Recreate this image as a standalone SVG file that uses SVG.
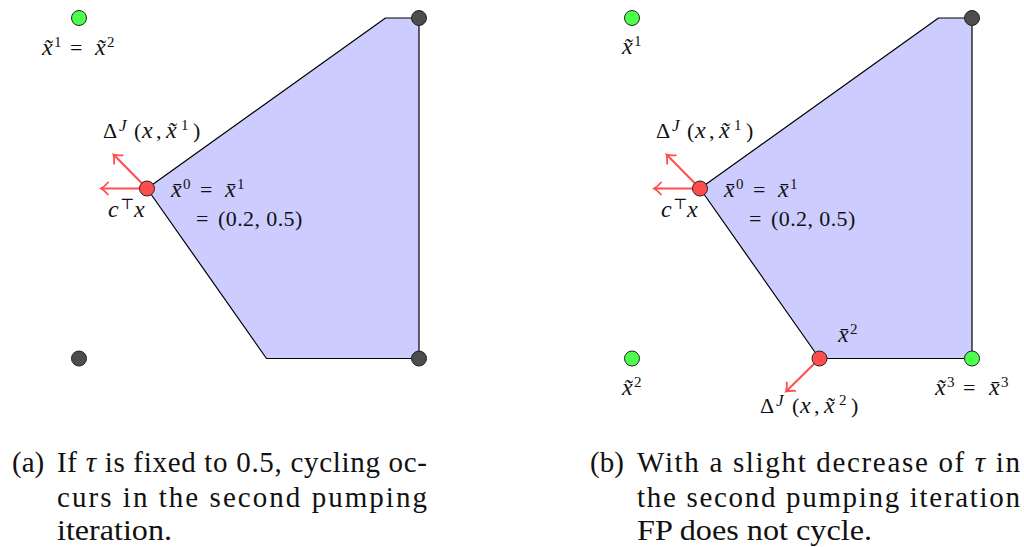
<svg xmlns="http://www.w3.org/2000/svg" width="1024" height="547" viewBox="0 0 1024 547">
<style>
.poly{fill:#ccccff;stroke:#000;stroke-width:1.2;stroke-linejoin:round}
.dg{fill:#4dff4d;stroke:#222;stroke-width:1}
.dk{fill:#4d4d4d;stroke:#222;stroke-width:1}
.dr{fill:#ff4d4d;stroke:#222;stroke-width:1}
.arr{stroke:#ff4d4d;stroke-width:2;fill:none;marker-end:url(#ah)}
.m{font-family:'Liberation Serif','DejaVu Serif',serif;font-size:22px;fill:#111}
.i{font-style:italic;font-size:24px}
.s{font-size:15px}
.j{font-style:italic;font-size:17px}
.cap{font-family:'Liberation Serif','DejaVu Serif',serif;font-size:29px;fill:#111}
</style>
<defs>
<marker id="ah" markerUnits="userSpaceOnUse" markerWidth="16" markerHeight="16" refX="0" refY="0" viewBox="-10 -8 12 16" orient="auto">
<path d="M-7,-6 Q-3,-1.5 0,0 Q-3,1.5 -7,6" fill="none" stroke="#ff4d4d" stroke-width="1.8" stroke-linecap="round"/>
</marker>
</defs>

<g id="panel-a">
<polygon id="polytope-a" class="poly" points="147,188.5 385.5,18 419,18 419,358.5 266.5,358.5"/>
<g id="connectors-a">
<line class="arr" x1="147" y1="188.5" x2="101" y2="188.5"/>
<line class="arr" x1="147" y1="188.5" x2="113.5" y2="154.5"/>
</g>
<g id="a-xt1"><circle class="dg" cx="79" cy="18" r="7.5"/></g>
<g id="a-top"><circle class="dk" cx="419" cy="18" r="7.5"/></g>
<g id="a-bl"><circle class="dk" cx="79" cy="358.5" r="7.5"/></g>
<g id="a-br"><circle class="dk" cx="419" cy="358.5" r="7.5"/></g>
<g id="a-xbar0"><circle class="dr" cx="147" cy="188.5" r="7.5"/></g>
<text class="m"><tspan class="i" x="42" y="55">x&#771;</tspan><tspan class="s" x="54" y="47">1</tspan><tspan x="70" y="55">=</tspan><tspan class="i" x="95" y="55">x&#771;</tspan><tspan class="s" x="107" y="47">2</tspan></text>
<text class="m"><tspan x="103" y="138">Δ</tspan><tspan class="j" x="119" y="131">J</tspan><tspan x="134" y="138">(</tspan><tspan class="i" x="142" y="138">x</tspan><tspan x="156" y="138">,</tspan><tspan class="i" x="166" y="138">x&#771;</tspan><tspan class="s" x="181" y="130">1</tspan><tspan x="193" y="138">)</tspan></text>
<text class="m"><tspan class="i" x="108" y="217">c</tspan><tspan class="s" font-family="DejaVu Serif" x="120" y="209">⊤</tspan><tspan class="i" x="134" y="217">x</tspan></text>
<text class="m"><tspan class="i" x="171" y="197">x&#772;</tspan><tspan class="s" x="183" y="189">0</tspan><tspan x="200" y="197">=</tspan><tspan class="i" x="225" y="197">x&#772;</tspan><tspan class="s" x="237" y="189">1</tspan></text>
<text class="m"><tspan x="196" y="226">=</tspan><tspan x="218" y="226" letter-spacing="0.4">(0.2, 0.5)</tspan></text>
</g>

<g id="panel-b">
<polygon id="polytope-b" class="poly" points="700,188.5 938.5,18 972,18 972,358.5 819.5,358.5"/>
<g id="connectors-b">
<line class="arr" x1="700" y1="188.5" x2="654" y2="188.5"/>
<line class="arr" x1="700" y1="188.5" x2="666.5" y2="154.5"/>
<line class="arr" x1="819.5" y1="358.5" x2="786" y2="391.5"/>
</g>
<g id="b-xt1"><circle class="dg" cx="632" cy="18" r="7.5"/></g>
<g id="b-top"><circle class="dk" cx="972" cy="18" r="7.5"/></g>
<g id="b-xt2"><circle class="dg" cx="632" cy="358.5" r="7.5"/></g>
<g id="b-xt3"><circle class="dg" cx="972" cy="358.5" r="7.5"/></g>
<g id="b-xbar0"><circle class="dr" cx="700" cy="188.5" r="7.5"/></g>
<g id="b-xbar2"><circle class="dr" cx="819.5" cy="358.5" r="7.5"/></g>
<text class="m"><tspan class="i" x="622" y="54">x&#771;</tspan><tspan class="s" x="634" y="46">1</tspan></text>
<text class="m"><tspan x="656" y="138">Δ</tspan><tspan class="j" x="672" y="131">J</tspan><tspan x="687" y="138">(</tspan><tspan class="i" x="695" y="138">x</tspan><tspan x="709" y="138">,</tspan><tspan class="i" x="719" y="138">x&#771;</tspan><tspan class="s" x="734" y="130">1</tspan><tspan x="746" y="138">)</tspan></text>
<text class="m"><tspan class="i" x="661" y="217">c</tspan><tspan class="s" font-family="DejaVu Serif" x="673" y="209">⊤</tspan><tspan class="i" x="687" y="217">x</tspan></text>
<text class="m"><tspan class="i" x="724" y="197">x&#772;</tspan><tspan class="s" x="736" y="189">0</tspan><tspan x="753" y="197">=</tspan><tspan class="i" x="778" y="197">x&#772;</tspan><tspan class="s" x="790" y="189">1</tspan></text>
<text class="m"><tspan x="749" y="226">=</tspan><tspan x="771" y="226" letter-spacing="0.4">(0.2, 0.5)</tspan></text>
<text class="m"><tspan class="i" x="838" y="342">x&#772;</tspan><tspan class="s" x="850" y="334">2</tspan></text>
<text class="m"><tspan class="i" x="622" y="395">x&#771;</tspan><tspan class="s" x="634" y="387">2</tspan></text>
<text class="m"><tspan x="760" y="413">Δ</tspan><tspan class="j" x="776" y="406">J</tspan><tspan x="792" y="413">(</tspan><tspan class="i" x="800" y="413">x</tspan><tspan x="814" y="413">,</tspan><tspan class="i" x="824" y="413">x&#771;</tspan><tspan class="s" x="839" y="405">2</tspan><tspan x="851" y="413">)</tspan></text>
<text class="m"><tspan class="i" x="935" y="395">x&#771;</tspan><tspan class="s" x="947" y="387">3</tspan><tspan x="963" y="395">=</tspan><tspan class="i" x="989" y="395">x&#772;</tspan><tspan class="s" x="1001" y="387">3</tspan></text>
</g>

<g id="caption-a">
<text class="cap" x="12" y="472">(a)</text>
<text class="cap" x="57" y="472" textLength="370" lengthAdjust="spacing">If <tspan font-style="italic">τ</tspan> is fixed to 0.5, cycling oc-</text>
<text class="cap" x="57" y="507" textLength="370" lengthAdjust="spacing">curs in the second pumping</text>
<text class="cap" x="57" y="540" textLength="115" lengthAdjust="spacingAndGlyphs">iteration.</text>
</g>
<g id="caption-b">
<text class="cap" x="590" y="472">(b)</text>
<text class="cap" x="637" y="472" textLength="383" lengthAdjust="spacing">With a slight decrease of <tspan font-style="italic">τ</tspan> in</text>
<text class="cap" x="637" y="507" textLength="383" lengthAdjust="spacing">the second pumping iteration</text>
<text class="cap" x="637" y="540" textLength="235" lengthAdjust="spacingAndGlyphs">FP does not cycle.</text>
</g>
</svg>
